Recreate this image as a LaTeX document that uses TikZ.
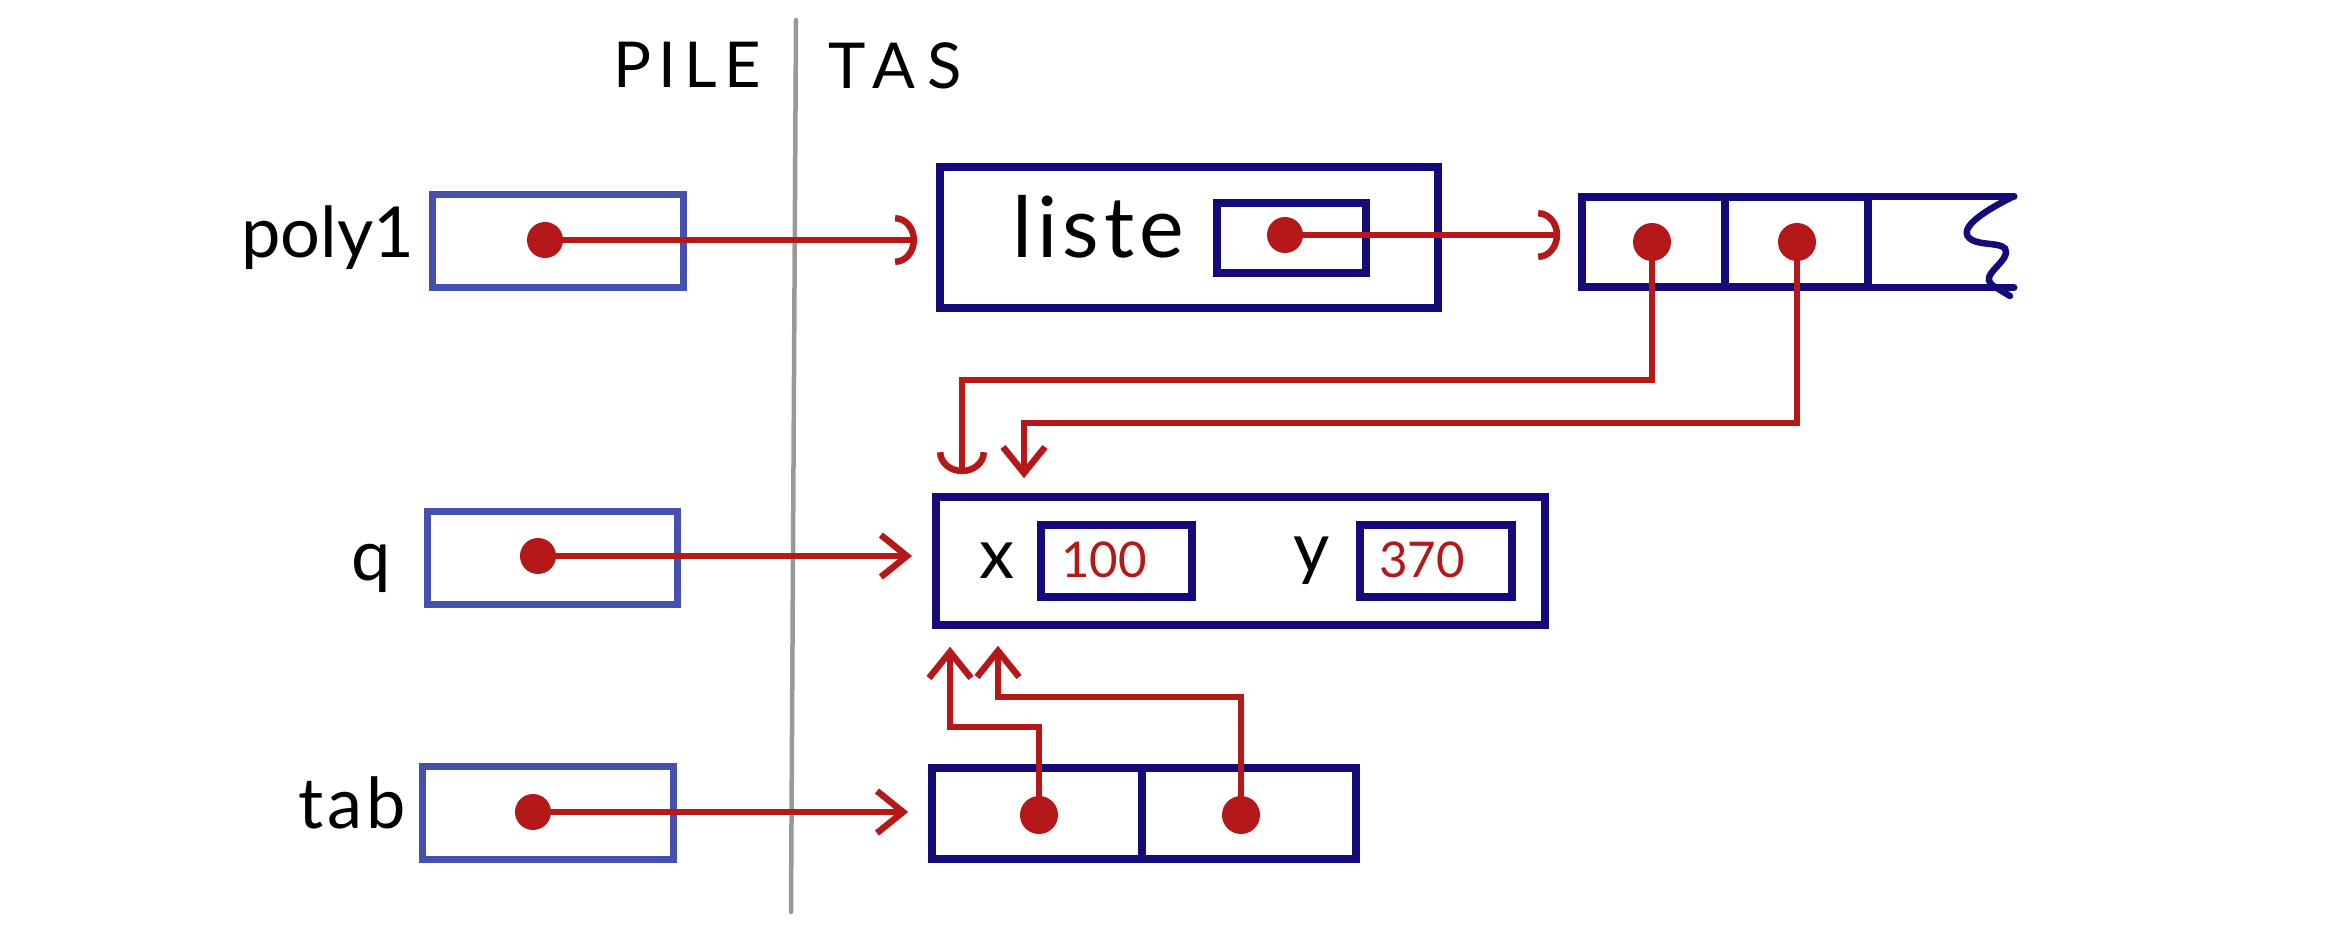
\documentclass[tikz,border=0pt]{standalone}
\usepackage{fontspec}
\setmainfont{Lato}
\usetikzlibrary{arrows.meta,calc}
\definecolor{redp}{HTML}{B41818}
\definecolor{navy}{HTML}{140A78}
\definecolor{stackblue}{HTML}{4650AF}
\definecolor{divgray}{HTML}{999999}
\begin{document}
\begin{tikzpicture}[x=0.01cm,y=-0.01cm,
  stackbox/.style={draw=stackblue, line width=0.07cm, minimum width=2.5cm, minimum height=0.92cm, inner sep=0pt},
  heapbox/.style={draw=navy, line width=0.075cm, inner sep=0pt},
  ptrdot/.style={circle, fill=redp, minimum size=0.36cm, inner sep=0pt},
  ptr/.style={draw=redp, line width=0.065cm, line cap=round, -{Straight Barb[length=0.26cm,width=0.42cm]}},
  ptrc/.style={draw=redp, line width=0.065cm, line cap=round, -{Arc Barb[length=0.22cm,width=0.5cm]}},
  lbl/.style={font=\fontsize{20}{24}\selectfont, anchor=base, inner sep=0pt},
  hdr/.style={font=\fontsize{18}{22}\selectfont\addfontfeatures{LetterSpace=12}, anchor=base, inner sep=0pt},
  numlbl/.style={font=\fontsize{14}{17}\selectfont, text=redp, anchor=base, inner sep=0pt}
]
\useasboundingbox (0,0) rectangle (2332,936);

% divider
\coordinate (gtop) at (796,20);
\coordinate (gbot) at (791,912);
\draw[divgray, line width=0.045cm, line cap=round] (gtop) -- (gbot);
\node[hdr] (pile) at (687,87) {PILE};
\node[hdr, font=\fontsize{18}{22}\selectfont\addfontfeatures{LetterSpace=18}] (tas) at (895,88) {TAS};

% stack boxes
\node[stackbox] (s1) at (558,241) {};
\node[stackbox] (s2) at (552.5,558) {};
\node[stackbox] (s3) at (548,813) {};
\node[lbl] (lpoly) at (328,257) {poly1};
\node[lbl] (lq) at (371,580) {q};
\node[lbl, font=\fontsize{20}{24}\selectfont\addfontfeatures{LetterSpace=6}] (ltab) at (352,828) {tab};

% heap: list object
\node[heapbox, minimum width=4.98cm, minimum height=1.41cm] (lst) at (1189,237.5) {};
\node[heapbox, minimum width=1.49cm, minimum height=0.70cm] (nxt) at (1291.5,238) {};
\node[lbl, font=\fontsize{24}{28}\selectfont\addfontfeatures{LetterSpace=6}] (lliste) at (1098,257) {liste};

% heap: array of pointers
\node[heapbox, minimum width=1.43cm, minimum height=0.90cm] (c1) at (1653.5,242) {};
\node[heapbox, minimum width=1.43cm, minimum height=0.90cm] (c2) at (1796.5,242) {};
\node[minimum width=1.45cm, minimum height=0.90cm, inner sep=0pt] (c3) at (1940.5,242) {};
\draw[navy, line width=0.075cm, line cap=round] (c3.north west) -- (c3.north east);
\draw[navy, line width=0.075cm, line cap=round] (c3.south west) -- (c3.south east);
\draw[navy, line width=0.065cm, line cap=round] (c3.north east)
  .. controls (1982,212) and (1955,230) .. (1972,240)
  .. controls (1985,247) and (2014,240) .. (2004,258)
  .. controls (1996,270) and (1980,278) .. (1995,287) -- (2010,296);

% heap: point object
\node[heapbox, minimum width=6.09cm, minimum height=1.28cm] (st) at (1240.5,561) {};
\node[heapbox, minimum width=1.51cm, minimum height=0.72cm] (xb) at (1116.5,561) {};
\node[heapbox, minimum width=1.52cm, minimum height=0.72cm] (yb) at (1436,561) {};
\node[lbl] (lx) at (997,578) {x};
\node[lbl] (ly) at (1312,572) {y};
\node[numlbl] (n100) at (1104,577) {100};
\node[numlbl] (n370) at (1422,577) {370};

% heap: tab array
\node[heapbox, minimum width=2.10cm, minimum height=0.91cm] (t1) at (1037,813.5) {};
\node[heapbox, minimum width=2.14cm, minimum height=0.91cm] (t2) at (1249,813.5) {};

% pointer dots
\node[ptrdot] (p1) at (545,240) {};
\node[ptrdot] (p2) at (538,556) {};
\node[ptrdot] (p3) at (533,812) {};
\node[ptrdot] (p4) at (1285,235) {};
\node[ptrdot, minimum size=0.38cm] (a1) at (1652,242) {};
\node[ptrdot, minimum size=0.38cm] (a2) at (1797,242) {};
\node[ptrdot, minimum size=0.38cm] (b1) at (1039,815) {};
\node[ptrdot, minimum size=0.38cm] (b2) at (1241,815) {};

% connectors
\draw[ptrc, shorten >=0.19cm] (p1.center) -- (p1.center -| lst.west);
\draw[ptrc, shorten >=0.18cm] (p4.center) -- (p4.center -| c1.west);
\draw[ptr, shorten >=0.2cm] (p2.center) -- (p2.center -| st.west);
\draw[ptr, shorten >=0.2cm] (p3.center) -- (p3.center -| t1.west);

\coordinate (k1) at (962,380);
\coordinate (k2) at (1024,423);
\coordinate (k3) at (950,727);
\coordinate (k4) at (998,697);
\draw[ptrc, shorten >=0.19cm] (a1.center) |- (k1) -- (k1 |- st.north);
\draw[ptr, shorten >=0.15cm] (a2.center) |- (k2) -- (k2 |- st.north);
\draw[ptr, shorten >=0.18cm] (b1.center) |- (k3) -- (k3 |- st.south);
\draw[ptr, shorten >=0.17cm] (b2.center) |- (k4) -- (k4 |- st.south);
\end{tikzpicture}
\end{document}
